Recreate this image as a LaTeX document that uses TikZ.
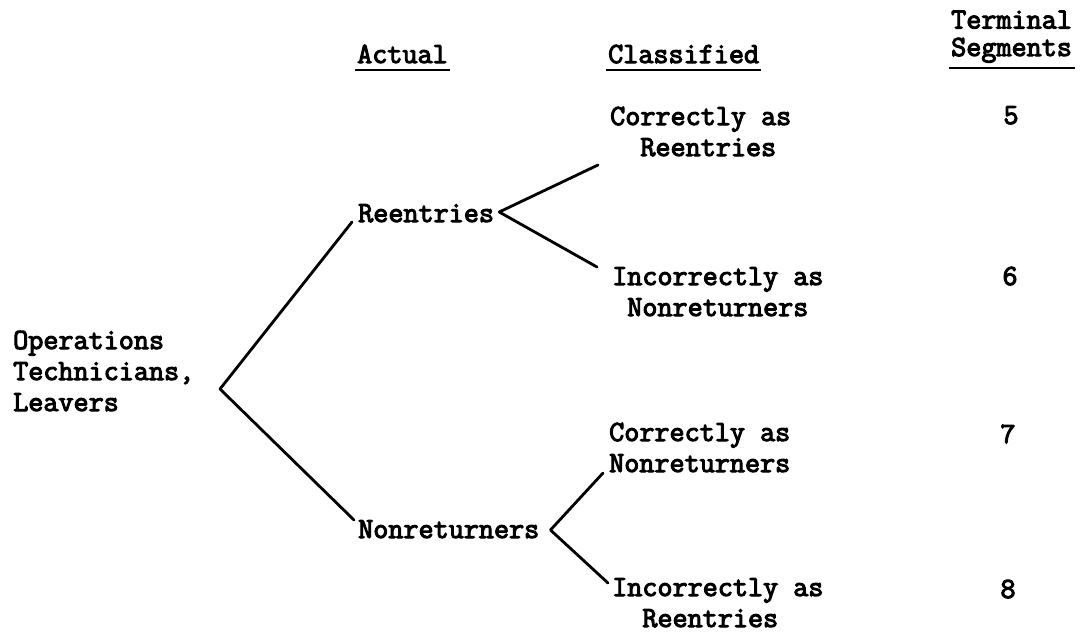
\documentclass[tikz,border=0pt]{standalone}
\usepackage{fontspec}
\newfontfamily\twfont{Latin Modern Mono}[FakeBold=3.6]
\begin{document}
\begin{tikzpicture}[x=1pt,y=-1pt,
  lbl/.style={font=\twfont\fontsize{29.3}{31}\selectfont, inner sep=0pt, anchor=base west, align=left},
  num/.style={font=\twfont\fontsize{29.3}{31}\selectfont, inner sep=0pt, anchor=base},
  branch/.style={line width=2.8pt, line cap=round, line join=round},
  rule/.style={line width=2pt}
]
\useasboundingbox[fill=white] (0,0) rectangle (1084,638);

% column headings
\node[lbl] (actual) at (357,63) {Actual};
\node[lbl] (classified) at (608,63) {Classified};
\node[lbl, font=\twfont\fontsize{29.3}{27.5}\selectfont] (segments) at (951,56) {Terminal\\Segments};
\draw[rule] ([xshift=-2pt,yshift=-7pt]actual.base west) -- ([xshift=2pt,yshift=-7pt]actual.base east);
\draw[rule] ([xshift=-2pt,yshift=-7pt]classified.base west) -- ([xshift=2pt,yshift=-7pt]classified.base east);
\draw[rule] ([xshift=-2pt,yshift=-12pt]segments.base west) -- ([xshift=3pt,yshift=-12pt]segments.base east);

% root (base = last line)
\node[lbl] (root) at (13,411) {Operations\\Technicians,\\Leavers};

% actual outcome
\node[lbl] (reent) at (358,222) {Reentries};
\node[lbl] (nonret) at (358,538) {Nonreturners};

% classified outcome (base = last line)
\node[lbl] (c5) at (610,156) {Correctly as\\\phantom{Co}Reentries};
\node[lbl] (c6) at (612,316) {Incorrectly as\\\phantom{I}Nonreturners};
\node[lbl] (c7) at (609,472) {Correctly as\\Nonreturners};
\node[lbl] (c8) at (612,627) {Incorrectly as\\\phantom{In}Reentries};

% terminal segment numbers
\node[num] (n5) at (1011,124) {5};
\node[num] (n6) at (1010,285) {6};
\node[num] (n7) at (1008,443) {7};
\node[num] (n8) at (1008,598) {8};

% fork points and free branch ends
\coordinate (f0) at (220,389);
\coordinate (f1) at ([xshift=5pt,yshift=10pt]reent.base east);
\coordinate (f2) at ([xshift=11pt,yshift=8pt]nonret.base east);
\coordinate (e5) at (598,165);
\coordinate (e6) at (597,267);
\coordinate (e7) at (603,473);
\coordinate (e8) at (608,583);

\draw[branch] ([xshift=-6pt]reent.base west) -- (f0) -- ([xshift=-4pt,yshift=18pt]nonret.base west);
\draw[branch] (e5) -- (f1) -- (e6);
\draw[branch] (e7) -- (f2) -- (e8);
\end{tikzpicture}
\end{document}
